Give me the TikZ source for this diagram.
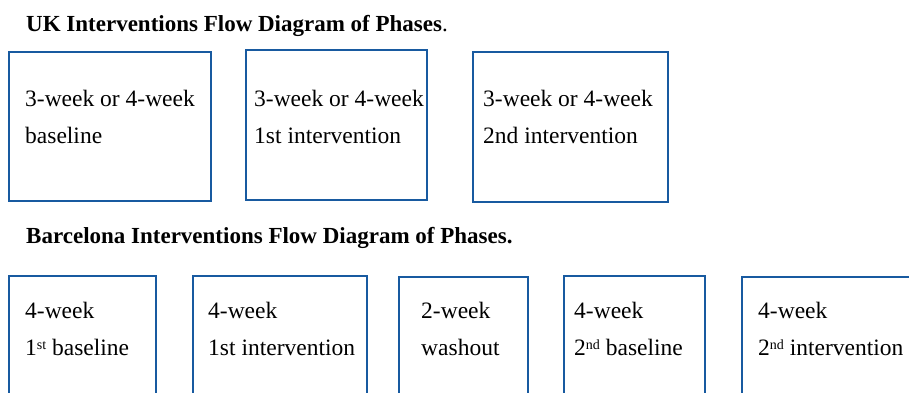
\documentclass[tikz,border=0pt]{standalone}
\usepackage{fontspec}
\setmainfont{Liberation Serif}
\usepackage{tikz}
\definecolor{phaseblue}{RGB}{24,90,160}
\newcommand{\ordsup}[1]{\raisebox{0.5ex}{\fontsize{14}{14}\selectfont #1}}
\tikzset{
	phasebox/.style={draw=phaseblue,line width=2.6pt},
	phasetext/.style={anchor=base west,align=left,inner sep=0pt,font=\fontsize{23.5}{37}\selectfont},
	headtext/.style={anchor=base west,inner sep=0pt,font=\fontsize{23}{26}\selectfont\bfseries}
}

\begin{document}
\begin{tikzpicture}[x=1pt,y=-1pt]
	\useasboundingbox (0,0) rectangle (909,392);
	\clip (0,0) rectangle (909,392);
	\fill[white] (0,0) rectangle (909,392);
	% UK (base anchor sits on the second line)
	\node[headtext] (ukhead) at (26,31) {UK Interventions Flow Diagram of Phases\textmd{.}};
	\draw[phasebox] (9,52) rectangle (211,201);
	\draw[phasebox] (246,50) rectangle (427,200);
	\draw[phasebox] (473,52) rectangle (668,202);
	\node[phasetext] (ukbase) at (25,143) {3-week or 4-week\\baseline};
	\node[phasetext] (ukint1) at (254,143) {3-week or 4-week\\1st intervention};
	\node[phasetext] (ukint2) at (483,143) {3-week or 4-week\\2nd intervention};
	% Barcelona
	\node[headtext] (bchead) at (26,243) {Barcelona Interventions Flow Diagram of Phases.};
	\draw[phasebox] (9,276) rectangle (156,410);
	\draw[phasebox] (193,276) rectangle (367,410);
	\draw[phasebox] (399,277) rectangle (528,410);
	\draw[phasebox] (564,276) rectangle (705,410);
	\draw[phasebox] (742,277) rectangle (930,410);
	\node[phasetext] (bcbase1) at (25,355) {4-week\\1\ordsup{st} baseline};
	\node[phasetext] (bcint1) at (208,355) {4-week\\1st intervention};
	\node[phasetext] (bcwash) at (421,355) {2-week\\washout};
	\node[phasetext] (bcbase2) at (574,355) {4-week\\2\ordsup{nd} baseline};
	\node[phasetext] (bcint2) at (758,355) {4-week\\2\ordsup{nd} intervention};
\end{tikzpicture}
\end{document}
